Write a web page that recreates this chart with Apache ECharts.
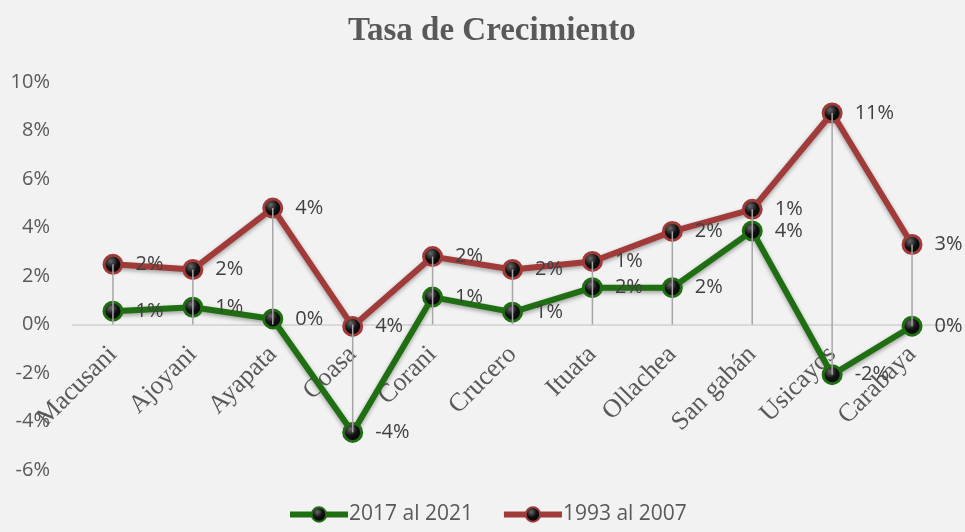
<!DOCTYPE html>
<html>
<head>
<meta charset="utf-8">
<script src="https://cdn.jsdelivr.net/npm/echarts@6/dist/echarts.min.js"></script>
<style>
  html, body { margin: 0; padding: 0; background: #f2f2f2; }
  #chart { width: 965px; height: 532px; }
</style>
</head>
<body>
<div id="chart"></div>
<script>
// datos (en %)
const categories = ["Macusani", "Ajoyani", "Ayapata", "Coasa", "Corani", "Crucero", "Ituata", "Ollachea", "San gabán", "Usicayos", "Carabaya"];
const growth2017 = [0.55, 0.71, 0.23, -4.45, 1.13, 0.51, 1.52, 1.52, 3.86, -2.07, -0.07];
const growth1993 = [2.48, 2.27, 4.8, -0.08, 2.8, 2.27, 2.6, 3.84, 4.75, 8.72, 3.3];
// etiquetas tal como aparecen en el original
const labels2017 = ["1%", "1%", "0%", "-4%", "1%", "1%", "2%", "2%", "4%", "-2%", "0%"];
const labels1993 = ["2%", "2%", "4%", "4%", "2%", "2%", "1%", "2%", "1%", "11%", "3%"];
const yTicks = { min: -6, max: 10, step: 2 };

const GREEN = "#1f6e12";
const RED = "#a03b39";
const TEXT = "#595959";
const SANS = "'Open Sans', 'Noto Sans', sans-serif";
const SERIF = "'Liberation Serif', 'DejaVu Serif', serif";

const GRID = { left: 73, right: 13, top: 82, bottom: 62 };
const CHART_H = 532;
// el eje de categorías va sobre la línea del 0
const plotH = CHART_H - GRID.top - GRID.bottom;
const zeroOffset = -plotH * (0 - yTicks.min) / (yTicks.max - yTicks.min);

const chart = echarts.init(document.getElementById("chart"));

function markerFill() {
  return new echarts.graphic.RadialGradient(0.4, 0.35, 0.7, [
    { offset: 0, color: "#6a6a6a" },
    { offset: 0.45, color: "#111" },
    { offset: 1, color: "#000" },
  ]);
}

function lineSeries(name, values, texts, color) {
  return {
    name: name,
    type: "line",
    data: values,
    symbol: "circle",
    symbolSize: 18,
    z: 3,
    lineStyle: {
      color: color,
      width: 6,
      shadowColor: "rgba(0,0,0,0.35)",
      shadowBlur: 4,
      shadowOffsetY: 2,
    },
    itemStyle: {
      color: markerFill(),
      borderColor: color,
      borderWidth: 3,
    },
    label: {
      show: true,
      position: "right",
      distance: 12,
      fontFamily: SANS,
      fontSize: 20,
      color: "#404040",
      formatter: (p) => texts[p.dataIndex],
    },
    emphasis: { disabled: true },
  };
}

// líneas de caída: del valor más alto al más bajo (incluye el eje 0)
const dropData = categories.map((c, i) => [
  i,
  Math.max(growth2017[i], growth1993[i], 0),
  Math.min(growth2017[i], growth1993[i], 0),
]);

const option = {
  backgroundColor: "#f2f2f2",
  animation: false,
  title: {
    text: "Tasa de Crecimiento",
    left: 343,
    top: 10,
    textStyle: { fontFamily: SERIF, fontSize: 33, fontWeight: "bold", color: TEXT },
  },
  legend: {
    bottom: 2,
    left: 282,
    itemWidth: 58,
    itemHeight: 18,
    itemGap: 28,
    data: [
      { name: "2017 al 2021", lineStyle: { width: 6, color: GREEN } },
      { name: "1993 al 2007", lineStyle: { width: 6, color: RED } },
    ],
    textStyle: { fontFamily: SANS, fontSize: 21, color: TEXT, padding: [0, 0, 0, -4] },
  },
  grid: Object.assign({ outerBoundsMode: "none", containLabel: false }, GRID),
  xAxis: {
    type: "category",
    data: categories,
    boundaryGap: true,
    offset: zeroOffset,
    axisLine: { onZero: false, lineStyle: { color: "#d9d9d9", width: 2 } },
    axisTick: { show: false },
    axisLabel: {
      rotate: 45,
      interval: 0,
      margin: 26,
      fontFamily: SERIF,
      fontSize: 26,
      color: TEXT,
    },
  },
  yAxis: {
    type: "value",
    min: yTicks.min,
    max: yTicks.max,
    interval: yTicks.step,
    splitLine: { show: false },
    axisLine: { show: false },
    axisTick: { show: false },
    axisLabel: {
      margin: 23,
      fontFamily: SANS,
      fontSize: 20,
      color: TEXT,
      formatter: "{value}%",
    },
  },
  series: [
    lineSeries("1993 al 2007", growth1993, labels1993, RED),
    lineSeries("2017 al 2021", growth2017, labels2017, GREEN),
    {
      type: "custom",
      name: "drop",
      data: dropData,
      z: 4,
      silent: true,
      renderItem: (params, api) => {
        const top = api.coord([api.value(0), api.value(1)]);
        const bottom = api.coord([api.value(0), api.value(2)]);
        return {
          type: "line",
          shape: { x1: top[0], y1: top[1], x2: bottom[0], y2: bottom[1] },
          style: { stroke: "#a6a6a6", lineWidth: 1.5 },
        };
      },
    },
  ],
};

chart.setOption(option);
</script>
</body>
</html>
